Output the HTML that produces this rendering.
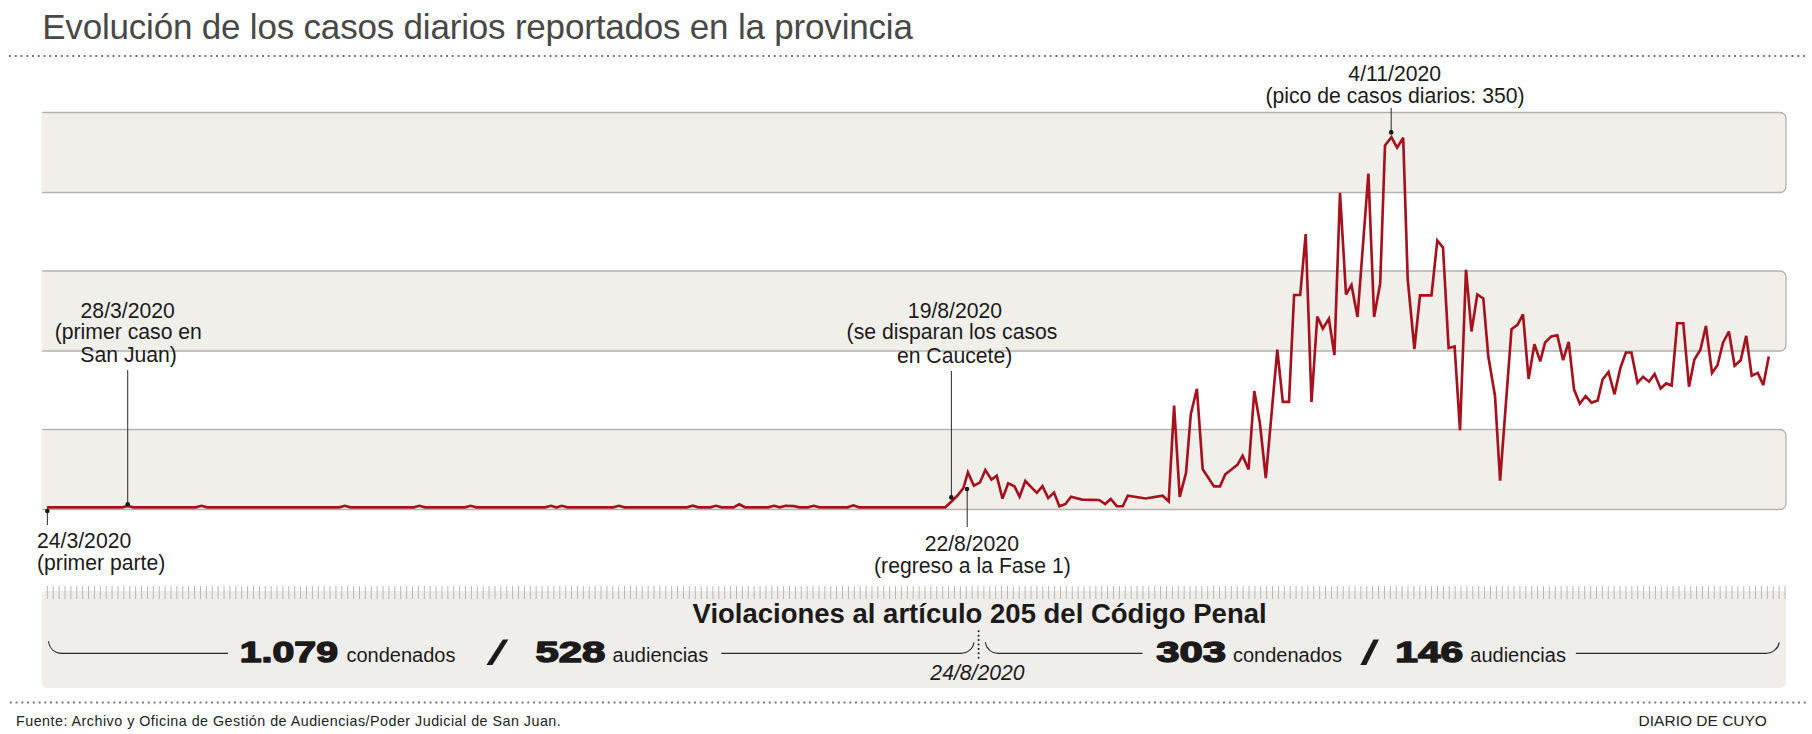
<!DOCTYPE html>
<html><head><meta charset="utf-8">
<style>
html,body{margin:0;padding:0;background:#fff;width:1812px;height:734px;overflow:hidden}
svg{display:block}
text{font-family:"Liberation Sans",sans-serif}
</style></head><body>
<svg width="1812" height="734" viewBox="0 0 1812 734">
<text x="42.2" y="39" font-size="35" letter-spacing="-0.19" fill="#484848">Evolución de los casos diarios reportados en la provincia</text>
<line x1="9" y1="56" x2="1807" y2="56" stroke="#7a7a7a" stroke-width="2" stroke-dasharray="2 3.75"/>
<g fill="#f0efea" stroke="#b2b2b0" stroke-width="1.3">
<path d="M42,112.5 H1780 a6,6 0 0 1 6,6 V186.5 a6,6 0 0 1 -6,6 H42"/>
<path d="M42,271 H1780 a6,6 0 0 1 6,6 V345 a6,6 0 0 1 -6,6 H42"/>
<path d="M42,429.5 H1780 a6,6 0 0 1 6,6 V503.5 a6,6 0 0 1 -6,6 H42"/>
</g>
<g fill="#f0efea"><rect x="41.5" y="113" width="2" height="79"/><rect x="41.5" y="271.6" width="2" height="79"/><rect x="41.5" y="430" width="2" height="79"/></g>
<g stroke="#333" stroke-width="1.05" fill="none">
<line x1="47.4" y1="510" x2="47.4" y2="525"/>
<line x1="127.7" y1="370" x2="127.7" y2="504"/>
<line x1="951.4" y1="371" x2="951.4" y2="497"/>
<line x1="967.2" y1="489" x2="967.2" y2="527"/>
<line x1="1391.2" y1="108" x2="1391.2" y2="132"/>
</g>
<path d="M47.0,507.3 L122.0,507.3 L127.7,506.0 L133.4,507.3 L195.7,507.3 L201.4,505.8 L207.2,507.3 L339.1,507.3 L344.9,505.8 L350.6,507.3 L413.6,507.3 L419.4,505.8 L425.1,507.3 L464.9,507.3 L470.7,505.8 L476.4,507.3 L545.2,507.3 L551.0,505.8 L556.0,507.3 L556.8,507.3 L561.8,505.8 L567.5,507.3 L613.1,507.3 L618.9,505.8 L624.6,507.3 L687.0,507.3 L692.8,505.7 L698.5,507.3 L710.2,507.3 L716.0,505.8 L721.8,507.3 L733.5,507.3 L739.2,504.3 L745.0,507.3 L768.2,507.3 L774.0,505.8 L779.8,507.3 L779.8,507.3 L785.6,505.8 L793.8,506.1 L799.6,507.3 L808.0,507.3 L813.7,505.8 L819.5,507.3 L847.6,507.3 L853.4,505.3 L859.1,507.3 L945.3,507.3 L951.5,501.5 L957.5,495.5 L963.4,488.0 L967.9,472.4 L973.9,485.7 L980.0,482.4 L985.3,470.0 L991.5,479.6 L996.7,475.7 L1002.5,498.6 L1008.2,483.4 L1014.4,486.2 L1019.6,496.7 L1025.3,481.0 L1036.8,492.9 L1042.5,486.2 L1048.2,498.1 L1054.0,492.6 L1059.4,506.2 L1065.5,504.0 L1071.0,496.8 L1082.0,499.6 L1099.1,500.0 L1105.2,504.0 L1110.7,499.0 L1116.8,506.2 L1122.8,506.2 L1127.8,495.7 L1145.5,498.5 L1162.6,495.7 L1168.7,501.3 L1174.1,405.5 L1179.7,496.8 L1186.0,473.0 L1190.8,414.2 L1196.9,388.8 L1202.7,469.2 L1214.0,486.4 L1220.0,486.4 L1225.3,474.3 L1237.4,464.8 L1242.6,455.6 L1248.6,469.5 L1254.3,391.0 L1259.9,423.3 L1265.8,478.1 L1277.3,349.6 L1282.8,401.8 L1289.0,401.8 L1294.1,295.0 L1300.2,295.0 L1305.7,234.0 L1311.5,402.0 L1317.3,316.5 L1322.8,328.6 L1328.9,318.7 L1334.4,355.1 L1340.0,192.8 L1346.0,294.5 L1351.5,285.1 L1357.5,317.0 L1368.4,173.5 L1374.1,317.0 L1380.2,283.4 L1385.0,145.4 L1391.4,137.1 L1397.1,147.6 L1403.2,137.7 L1407.7,279.1 L1414.4,349.0 L1420.0,295.3 L1431.5,295.3 L1437.3,240.5 L1443.0,247.6 L1448.6,348.0 L1454.6,346.4 L1460.0,430.2 L1466.0,269.7 L1471.5,331.5 L1477.3,294.5 L1483.3,298.4 L1488.3,356.3 L1495.0,396.0 L1500.1,480.7 L1511.5,329.2 L1517.5,324.8 L1523.0,314.3 L1528.6,379.0 L1534.4,344.2 L1540.2,361.3 L1545.1,342.5 L1551.2,336.4 L1557.3,335.3 L1563.1,360.2 L1568.7,341.9 L1574.0,389.3 L1579.8,403.7 L1585.6,396.0 L1591.6,402.6 L1597.7,400.4 L1602.6,379.5 L1608.5,372.0 L1614.5,394.3 L1620.4,367.9 L1625.9,352.5 L1631.4,352.5 L1637.5,382.8 L1643.0,376.8 L1649.0,381.7 L1654.6,374.0 L1660.6,388.4 L1666.2,383.4 L1671.7,385.6 L1677.2,323.2 L1683.3,323.2 L1689.0,386.7 L1694.3,359.7 L1700.4,349.7 L1705.9,326.0 L1712.0,372.9 L1717.5,365.2 L1723.0,342.6 L1728.9,331.5 L1734.6,365.7 L1740.7,360.2 L1746.2,335.9 L1751.7,375.7 L1757.8,372.9 L1763.3,385.1 L1768.8,356.4" fill="none" stroke="#a5121d" stroke-width="2.65" stroke-linejoin="miter" stroke-miterlimit="3"/>
<g fill="#1a1a1a">
<circle cx="47.3" cy="511" r="2.3"/>
<circle cx="127.7" cy="504.3" r="2.3"/>
<circle cx="951.3" cy="497.4" r="2.3"/>
<circle cx="967" cy="489" r="2.3"/>
<circle cx="1391.2" cy="132.4" r="2.3"/>
</g>
<g font-size="21.2" fill="#1c1a1a" text-anchor="middle">
<text x="127.7" y="317.6">28/3/2020</text>
<text x="128.3" y="339.2">(primer caso en</text>
<text x="128.6" y="362.3">San Juan)</text>
<text x="955" y="317.5">19/8/2020</text>
<text x="952" y="339">(se disparan los casos</text>
<text x="954.6" y="362.6">en Caucete)</text>
<text x="971.8" y="550.5">22/8/2020</text>
<text x="972.4" y="572.8">(regreso a la Fase 1)</text>
<text x="1394.7" y="81.4">4/11/2020</text>
<text x="1395" y="103">(pico de casos diarios: 350)</text>
</g>
<g font-size="21.2" fill="#1c1a1a">
<text x="37" y="547.5">24/3/2020</text>
<text x="37" y="570.2">(primer parte)</text>
</g>
<!-- bottom panel -->
<path d="M42,595 a4,4 0 0 1 4,-4 H1782 a4,4 0 0 1 4,4 V683 a5,5 0 0 1 -5,5 H47 a5,5 0 0 1 -5,-5 Z" fill="#efeeea"/>
<path d="M47.30,586V599M53.19,586V599M59.08,586V599M64.97,586V599M70.86,586V599M76.75,586V599M82.64,586V599M88.53,586V599M94.42,586V599M100.31,586V599M106.21,586V599M112.10,586V599M117.99,586V599M123.88,586V599M129.77,586V599M135.66,586V599M141.55,586V599M147.44,586V599M153.33,586V599M159.22,586V599M165.11,586V599M171.00,586V599M176.89,586V599M182.78,586V599M188.67,586V599M194.56,586V599M200.45,586V599M206.34,586V599M212.23,586V599M218.12,586V599M224.02,586V599M229.91,586V599M235.80,586V599M241.69,586V599M247.58,586V599M253.47,586V599M259.36,586V599M265.25,586V599M271.14,586V599M277.03,586V599M282.92,586V599M288.81,586V599M294.70,586V599M300.59,586V599M306.48,586V599M312.37,586V599M318.26,586V599M324.15,586V599M330.04,586V599M335.93,586V599M341.82,586V599M347.72,586V599M353.61,586V599M359.50,586V599M365.39,586V599M371.28,586V599M377.17,586V599M383.06,586V599M388.95,586V599M394.84,586V599M400.73,586V599M406.62,586V599M412.51,586V599M418.40,586V599M424.29,586V599M430.18,586V599M436.07,586V599M441.96,586V599M447.85,586V599M453.74,586V599M459.63,586V599M465.53,586V599M471.42,586V599M477.31,586V599M483.20,586V599M489.09,586V599M494.98,586V599M500.87,586V599M506.76,586V599M512.65,586V599M518.54,586V599M524.43,586V599M530.32,586V599M536.21,586V599M542.10,586V599M547.99,586V599M553.88,586V599M559.77,586V599M565.66,586V599M571.55,586V599M577.44,586V599M583.34,586V599M589.23,586V599M595.12,586V599M601.01,586V599M606.90,586V599M612.79,586V599M618.68,586V599M624.57,586V599M630.46,586V599M636.35,586V599M642.24,586V599M648.13,586V599M654.02,586V599M659.91,586V599M665.80,586V599M671.69,586V599M677.58,586V599M683.47,586V599M689.36,586V599M695.25,586V599M701.15,586V599M707.04,586V599M712.93,586V599M718.82,586V599M724.71,586V599M730.60,586V599M736.49,586V599M742.38,586V599M748.27,586V599M754.16,586V599M760.05,586V599M765.94,586V599M771.83,586V599M777.72,586V599M783.61,586V599M789.50,586V599M795.39,586V599M801.28,586V599M807.17,586V599M813.06,586V599M818.96,586V599M824.85,586V599M830.74,586V599M836.63,586V599M842.52,586V599M848.41,586V599M854.30,586V599M860.19,586V599M866.08,586V599M871.97,586V599M877.86,586V599M883.75,586V599M889.64,586V599M895.53,586V599M901.42,586V599M907.31,586V599M913.20,586V599M919.09,586V599M924.98,586V599M930.87,586V599M936.77,586V599M942.66,586V599M948.55,586V599M954.44,586V599M960.33,586V599M966.22,586V599M972.11,586V599M978.00,586V599M983.89,586V599M989.78,586V599M995.67,586V599M1001.56,586V599M1007.45,586V599M1013.34,586V599M1019.23,586V599M1025.12,586V599M1031.01,586V599M1036.90,586V599M1042.79,586V599M1048.68,586V599M1054.58,586V599M1060.47,586V599M1066.36,586V599M1072.25,586V599M1078.14,586V599M1084.03,586V599M1089.92,586V599M1095.81,586V599M1101.70,586V599M1107.59,586V599M1113.48,586V599M1119.37,586V599M1125.26,586V599M1131.15,586V599M1137.04,586V599M1142.93,586V599M1148.82,586V599M1154.71,586V599M1160.60,586V599M1166.49,586V599M1172.39,586V599M1178.28,586V599M1184.17,586V599M1190.06,586V599M1195.95,586V599M1201.84,586V599M1207.73,586V599M1213.62,586V599M1219.51,586V599M1225.40,586V599M1231.29,586V599M1237.18,586V599M1243.07,586V599M1248.96,586V599M1254.85,586V599M1260.74,586V599M1266.63,586V599M1272.52,586V599M1278.41,586V599M1284.30,586V599M1290.20,586V599M1296.09,586V599M1301.98,586V599M1307.87,586V599M1313.76,586V599M1319.65,586V599M1325.54,586V599M1331.43,586V599M1337.32,586V599M1343.21,586V599M1349.10,586V599M1354.99,586V599M1360.88,586V599M1366.77,586V599M1372.66,586V599M1378.55,586V599M1384.44,586V599M1390.33,586V599M1396.22,586V599M1402.11,586V599M1408.01,586V599M1413.90,586V599M1419.79,586V599M1425.68,586V599M1431.57,586V599M1437.46,586V599M1443.35,586V599M1449.24,586V599M1455.13,586V599M1461.02,586V599M1466.91,586V599M1472.80,586V599M1478.69,586V599M1484.58,586V599M1490.47,586V599M1496.36,586V599M1502.25,586V599M1508.14,586V599M1514.03,586V599M1519.92,586V599M1525.82,586V599M1531.71,586V599M1537.60,586V599M1543.49,586V599M1549.38,586V599M1555.27,586V599M1561.16,586V599M1567.05,586V599M1572.94,586V599M1578.83,586V599M1584.72,586V599M1590.61,586V599M1596.50,586V599M1602.39,586V599M1608.28,586V599M1614.17,586V599M1620.06,586V599M1625.95,586V599M1631.84,586V599M1637.73,586V599M1643.63,586V599M1649.52,586V599M1655.41,586V599M1661.30,586V599M1667.19,586V599M1673.08,586V599M1678.97,586V599M1684.86,586V599M1690.75,586V599M1696.64,586V599M1702.53,586V599M1708.42,586V599M1714.31,586V599M1720.20,586V599M1726.09,586V599M1731.98,586V599M1737.87,586V599M1743.76,586V599M1749.65,586V599M1755.54,586V599M1761.44,586V599M1767.33,586V599M1773.22,586V599M1779.11,586V599M1785.00,586V599" stroke="#b8b7b3" stroke-width="1"/>
<text x="979.6" y="623" font-size="27.5" font-weight="bold" fill="#1c1a1a" text-anchor="middle">Violaciones al artículo 205 del Código Penal</text>
<g stroke="#2a2a2a" stroke-width="1.15" fill="none">
<path d="M48.4,641.4 C49.5,648 54,653.3 62,653.3 H228"/>
<path d="M721.4,653.3 H961 C968,653.3 973.5,648 973.9,642.2"/>
<path d="M985.3,642.2 C986,648 991,653.3 998,653.3 H1142.5"/>
<path d="M1575.9,653.3 H1766 C1773,653.3 1778.5,648 1779.3,642.3"/>
</g>
<line x1="978.6" y1="631.3" x2="978.6" y2="658.5" stroke="#1a1a1a" stroke-width="2" stroke-linecap="round" stroke-dasharray="0 4.4"/>
<text x="977.5" y="680.3" font-size="21.2" font-style="italic" fill="#1c1a1a" text-anchor="middle">24/8/2020</text>
<g font-size="29.5" font-weight="bold" fill="#1c1a1a" stroke="#1c1a1a" stroke-width="1.4" stroke-linejoin="round">
<text transform="translate(239.8,661.6) scale(1.33,1)" x="0" y="0">1.079</text>
<text transform="translate(535.4,661.6) scale(1.421,1)" x="0" y="0">528</text>
<text transform="translate(1156.2,661.6) scale(1.419,1)" x="0" y="0">303</text>
<text transform="translate(1395.3,661.6) scale(1.38,1)" x="0" y="0">146</text>
</g>
<g fill="#1c1a1a">
<path d="M502.8,639.5 L508.4,639.5 L492.4,665 L486.4,665 Z"/>
<path d="M1373.4,639.5 L1379,639.5 L1366.3,665 L1360.3,665 Z"/>
</g>
<g font-size="20" fill="#1c1a1a">
<text x="346.5" y="662">condenados</text>
<text x="612.6" y="662">audiencias</text>
<text x="1233" y="662">condenados</text>
<text x="1470.3" y="662">audiencias</text>
</g>
<line x1="9.8" y1="702.6" x2="1808" y2="702.6" stroke="#7a7a7a" stroke-width="2" stroke-dasharray="2 3.75"/>
<text x="16" y="725.6" font-size="14.3" letter-spacing="0.49" fill="#222">Fuente: Archivo y Oficina de Gestión de Audiencias/Poder Judicial de San Juan.</text>
<text x="1638.6" y="726" font-size="15.5" fill="#222">DIARIO DE CUYO</text>
</svg>
</body></html>
